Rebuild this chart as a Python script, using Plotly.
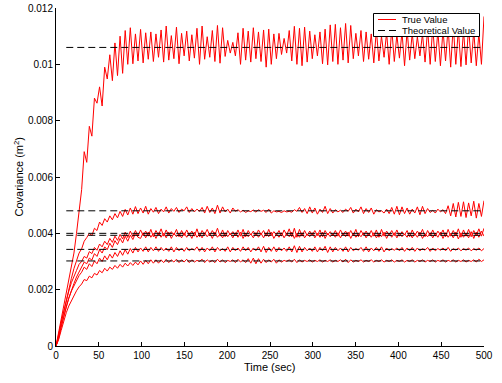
import numpy as np
import plotly.graph_objects as go

# ---- data (covariance values in units of 1e-5 m^2, sampled uniformly over 0..500 s) ----
T_END = 500
SCALE = 1e-5

cov_a = [0, 47, 94, 141, 188, 235, 282, 330, 400, 490,
         555, 690, 652, 780, 745, 880, 862, 920, 852, 990,
         948, 1034, 942, 1076, 960, 1100, 968, 1120, 1000, 1130,
         1002, 1108, 1012, 1124, 1005, 1112, 1018, 1115, 1010, 1108,
         1025, 1122, 1008, 1136, 1015, 1102, 1020, 1132, 1002, 1110,
         1030, 1118, 1012, 1105, 1022, 1128, 1000, 1136, 1018, 1098,
         1025, 1120, 1010, 1138, 1004, 1130, 1028, 1085, 1040, 1078,
         1030, 1112, 1000, 1128, 1015, 1118, 1008, 1130, 1020, 1115,
         1010, 1122, 990, 1125, 1000, 1108, 1020, 1110, 1035, 1092,
         1040, 1120, 1012, 1135, 1000, 1128, 995, 1132, 1008, 1118,
         1020, 1105, 1030, 1115, 1002, 1125, 998, 1140, 1010, 1142,
         1000, 1130, 1015, 1145, 1005, 1138, 1020, 1110, 1030, 1120,
         1010, 1115, 1018, 1108, 1005, 1122, 1012, 1100, 1025, 1112,
         1000, 1128, 1010, 1105, 1022, 1115, 995, 1120, 1015, 1110,
         1020, 1098, 1030, 1108, 1008, 1125, 1000, 1132, 1010, 1118,
         995, 1122, 1012, 1130, 990, 1138, 1000, 1125, 992, 1120,
         998, 1132, 1005, 1118, 995, 1110, 1000, 1170]

cov_b = [0, 40, 90, 130, 170, 205, 240, 275, 300, 330,
         345, 372, 385, 400, 392, 418, 410, 440, 428, 452,
         440, 462, 448, 470, 455, 478, 460, 485, 465, 490,
         468, 495, 470, 490, 472, 496, 468, 488, 475, 492,
         470, 486, 476, 494, 472, 488, 478, 492, 474, 486,
         480, 494, 474, 488, 476, 486, 478, 492, 472, 496,
         474, 490, 470, 500, 472, 494, 476, 486, 472, 490,
         478, 484, 476, 482, 474, 480, 477, 483, 475, 484,
         478, 482, 474, 486, 472, 480, 476, 478, 474, 480,
         476, 478, 475, 484, 478, 492, 474, 488, 470, 494,
         472, 490, 468, 486, 474, 496, 470, 488, 472, 484,
         476, 482, 474, 486, 478, 492, 472, 486, 476, 494,
         470, 488, 474, 490, 468, 484, 476, 480, 472, 486,
         470, 492, 468, 496, 466, 494, 470, 490, 468, 486,
         472, 494, 466, 496, 470, 488, 474, 482, 472, 486,
         476, 484, 470, 498, 462, 506, 458, 510, 460, 512,
         456, 508, 462, 514, 454, 506, 460, 516]

cov_c = [0, 35, 85, 125, 165, 195, 225, 250, 268, 290,
         300, 318, 312, 335, 328, 350, 340, 362, 352, 372,
         360, 382, 368, 390, 375, 396, 380, 404, 385, 408,
         388, 410, 390, 412, 392, 408, 390, 414, 388, 410,
         394, 416, 390, 412, 392, 406, 394, 414, 388, 410,
         392, 412, 394, 408, 390, 416, 388, 410, 396, 414,
         392, 410, 394, 418, 390, 412, 388, 410, 394, 406,
         392, 412, 390, 414, 388, 410, 394, 408, 392, 412,
         396, 410, 390, 414, 392, 406, 394, 410, 390, 412,
         394, 416, 388, 418, 386, 414, 390, 410, 392, 408,
         394, 410, 392, 412, 388, 410, 394, 406, 392, 410,
         390, 412, 394, 408, 390, 410, 392, 414, 388, 410,
         394, 408, 392, 410, 390, 412, 386, 414, 390, 408,
         394, 410, 392, 412, 390, 406, 394, 410, 388, 412,
         392, 408, 394, 414, 388, 410, 392, 412, 390, 408,
         394, 412, 388, 414, 390, 410, 392, 416, 386, 412,
         390, 414, 388, 410, 392, 416, 390, 418]

cov_d = [0, 25, 65, 105, 140, 170, 200, 222, 245, 262,
         280, 298, 292, 312, 305, 328, 318, 342, 330, 352,
         342, 365, 350, 374, 360, 382, 366, 390, 372, 394,
         378, 400, 386, 382, 402, 384, 404, 386, 400, 382,
         402, 386, 400, 384, 404, 382, 400, 388, 398, 384,
         402, 386, 400, 382, 404, 386, 398, 384, 402, 388,
         400, 382, 404, 386, 398, 384, 402, 388, 400, 384,
         402, 386, 404, 382, 400, 388, 398, 384, 402, 386,
         400, 384, 402, 388, 404, 382, 398, 386, 402, 384,
         400, 388, 404, 382, 400, 386, 402, 384, 398, 388,
         402, 384, 400, 386, 404, 382, 400, 388, 398, 386,
         402, 384, 400, 388, 404, 382, 400, 386, 398, 388,
         402, 384, 400, 386, 402, 384, 398, 388, 404, 382,
         400, 386, 402, 384, 400, 388, 398, 386, 402, 384,
         400, 386, 404, 382, 398, 388, 402, 384, 400, 386,
         404, 382, 402, 386, 400, 384, 404, 380, 402, 386,
         400, 384, 406, 382, 404, 386, 408, 390]

cov_e = [0, 30, 70, 105, 140, 170, 195, 215, 235, 250,
         262, 280, 272, 292, 282, 302, 292, 312, 300, 320,
         306, 326, 312, 332, 318, 338, 322, 342, 326, 346,
         330, 350, 334, 348, 336, 352, 334, 350, 338, 352,
         336, 350, 338, 348, 336, 352, 334, 350, 338, 348,
         336, 350, 338, 346, 340, 352, 336, 350, 334, 348,
         338, 352, 334, 350, 338, 346, 336, 352, 334, 350,
         338, 348, 336, 352, 338, 350, 334, 348, 338, 352,
         334, 354, 332, 350, 336, 352, 334, 350, 338, 348,
         336, 352, 334, 356, 332, 354, 334, 350, 338, 348,
         336, 352, 334, 350, 338, 354, 332, 352, 334, 350,
         338, 348, 336, 352, 334, 350, 338, 346, 340, 350,
         336, 352, 334, 348, 338, 350, 336, 352, 334, 348,
         338, 346, 340, 348, 338, 350, 336, 348, 338, 350,
         336, 348, 338, 346, 340, 350, 336, 348, 338, 346,
         340, 348, 338, 350, 336, 346, 340, 348, 338, 346,
         340, 348, 338, 346, 340, 348, 338, 346]

cov_f = [0, 22, 55, 88, 118, 142, 162, 180, 196, 210,
         220, 236, 232, 248, 242, 258, 252, 268, 260, 276,
         266, 280, 272, 286, 276, 290, 280, 294, 284, 296,
         286, 298, 288, 302, 290, 304, 292, 306, 294, 306,
         294, 306, 296, 308, 296, 306, 298, 308, 296, 306,
         298, 308, 296, 306, 298, 304, 300, 308, 296, 306,
         298, 304, 296, 308, 298, 306, 296, 304, 300, 306,
         296, 308, 298, 306, 296, 310, 294, 312, 292, 310,
         294, 308, 296, 306, 298, 308, 294, 306, 298, 304,
         300, 306, 298, 308, 296, 306, 298, 304, 300, 306,
         298, 304, 300, 306, 298, 304, 300, 306, 298, 304,
         300, 306, 298, 308, 296, 306, 298, 304, 300, 306,
         298, 304, 300, 306, 298, 304, 300, 306, 298, 304,
         300, 306, 298, 304, 300, 306, 298, 304, 300, 306,
         298, 304, 300, 306, 298, 304, 300, 306, 298, 304,
         300, 306, 298, 304, 300, 306, 298, 304, 300, 306,
         298, 304, 300, 306, 298, 308, 300, 306]

true_series = [cov_a, cov_b, cov_c, cov_d, cov_e, cov_f]

theory_values = [0.0106, 0.0048, 0.0040, 0.00393, 0.00343, 0.00302]
theory_t = [12, 500]

x_ticks = [0, 50, 100, 150, 200, 250, 300, 350, 400, 450, 500]
y_ticks = [0, 0.002, 0.004, 0.006, 0.008, 0.010, 0.012]
y_tick_labels = ["0", "0.002", "0.004", "0.006", "0.008", "0.01", "0.012"]

# ---- figure ----
W, H = 502, 383
L, R, TOP, B = 56, 18, 8, 37
PW, PH = W - L - R, H - TOP - B
FONT = "Liberation Sans, Arial, Helvetica, sans-serif"


def px(xp):
    return (xp - L) / PW


def py(yp):
    return (H - B - yp) / PH


fig = go.Figure()
for vals in true_series:
    t = np.linspace(0, T_END, len(vals))
    fig.add_trace(go.Scatter(x=t, y=np.array(vals) * SCALE, mode="lines",
                             line=dict(color="#ff0000", width=1),
                             showlegend=False, hoverinfo="skip"))
for v in theory_values:
    fig.add_trace(go.Scatter(x=theory_t, y=[v, v], mode="lines",
                             line=dict(color="black", width=1, dash="7px,4px"),
                             showlegend=False, hoverinfo="skip"))

axis_common = dict(showline=True, linecolor="black", linewidth=1, ticks="inside",
                   ticklen=4, tickcolor="black", tickwidth=1, showgrid=False,
                   zeroline=False, mirror=False, automargin=False,
                   tickfont=dict(family=FONT, size=10, color="black"))

fig.update_xaxes(range=[0, 500], tickvals=x_ticks, **axis_common)
fig.update_yaxes(range=[0, 0.012], tickvals=y_ticks, ticktext=y_tick_labels,
                 **axis_common)

# custom MATLAB-like legend
shapes = [
    dict(type="rect", xref="paper", yref="paper", x0=px(373.5), x1=px(479.5),
         y0=py(36.5), y1=py(13.5), line=dict(color="black", width=1),
         fillcolor="white", layer="above"),
    dict(type="line", xref="paper", yref="paper", x0=px(378), x1=px(396),
         y0=py(19.5), y1=py(19.5), line=dict(color="#ff0000", width=1), layer="above"),
    dict(type="line", xref="paper", yref="paper", x0=px(378), x1=px(396),
         y0=py(30.5), y1=py(30.5), line=dict(color="black", width=1, dash="7px,4px"),
         layer="above"),
]
annotations = [
    dict(text="True Value", xref="paper", yref="paper", x=px(400), y=py(19.5),
         xanchor="left", yanchor="middle", showarrow=False,
         font=dict(family=FONT, size=9.5, color="black")),
    dict(text="Theoretical Value", xref="paper", yref="paper", x=px(400), y=py(30.5),
         xanchor="left", yanchor="middle", showarrow=False,
         font=dict(family=FONT, size=9.5, color="black")),
    dict(text="Time (sec)", xref="paper", yref="paper", x=0.5, y=py(367),
         xanchor="center", yanchor="middle", showarrow=False,
         font=dict(family=FONT, size=11, color="black")),
    dict(text="Covariance (m<sup>2</sup>)", xref="paper", yref="paper", x=px(18.5),
         y=0.5, xanchor="center", yanchor="middle", textangle=-90, showarrow=False,
         font=dict(family=FONT, size=11, color="black")),
]

fig.update_layout(width=W, height=H, margin=dict(l=L, r=R, t=TOP, b=B),
                  paper_bgcolor="white", plot_bgcolor="white",
                  showlegend=False, shapes=shapes, annotations=annotations)

fig.write_html("out.html", config={"displayModeBar": False},
               post_script="document.body.style.margin='0px';"
                           "document.body.style.padding='0px';")
